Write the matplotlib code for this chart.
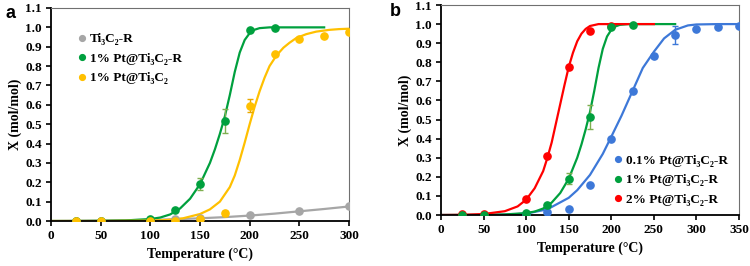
import matplotlib
matplotlib.use("Agg")
import matplotlib.pyplot as plt
from matplotlib.lines import Line2D

plt.rcParams['font.family'] = ['Liberation Serif', 'DejaVu Serif']
plt.rcParams['font.weight'] = 'bold'

# ---------------- Panel a data ----------------
a_gray_T = [25, 50, 100, 125, 150, 200, 250, 300]
a_gray = [0.0, 0.0, 0.005, 0.01, 0.015, 0.03, 0.053, 0.077]
a_green_T = [25, 50, 100, 125, 150, 175, 200, 225]
a_green = [0.0, 0.0, 0.01, 0.055, 0.19, 0.515, 0.987, 0.997]
a_green_err = [0, 0, 0, 0, 0.03, 0.062, 0, 0]
a_yellow_T = [25, 50, 100, 125, 150, 175, 200, 225, 250, 275, 300]
a_yellow = [0.0, 0.0, 0.0, 0.0, 0.012, 0.04, 0.595, 0.862, 0.94, 0.957, 0.974]
a_yellow_err = [0, 0, 0, 0, 0, 0.012, 0.033, 0, 0, 0, 0]

# fitted curves
a_gray_fitT = [0, 50, 100, 125, 150, 175, 200, 225, 250, 275, 300]
a_gray_fit = [0.0, 0.002, 0.006, 0.009, 0.014, 0.02, 0.028, 0.038, 0.05, 0.062, 0.075]
green_fitT = [0, 25, 50, 75, 100, 110, 120, 130, 140, 150, 160, 165, 170, 175,
              180, 185, 190, 195, 200, 205, 210, 220, 240, 275]
green_fit = [0.0, 0.0, 0.001, 0.003, 0.01, 0.018, 0.034, 0.065, 0.115, 0.19, 0.30,
             0.37, 0.45, 0.54, 0.65, 0.77, 0.87, 0.935, 0.97, 0.988, 0.996, 1.0, 1.0, 1.0]
a_yellow_fitT = [0, 50, 100, 116, 133, 150, 160, 170, 180, 185, 190, 195, 200, 205,
                 210, 215, 220, 227, 234, 240, 247, 257, 267, 280, 290, 300]
a_yellow_fit = [0.0, 0.0, 0.002, 0.005, 0.014, 0.036, 0.06, 0.10, 0.175, 0.235, 0.315,
                0.405, 0.50, 0.59, 0.67, 0.74, 0.80, 0.855, 0.895, 0.92, 0.945, 0.965,
                0.978, 0.987, 0.991, 0.993]

# ---------------- Panel b data ----------------
b_blue_T = [100, 125, 150, 175, 200, 225, 250, 275, 300, 325, 350]
b_blue = [0.005, 0.017, 0.032, 0.155, 0.398, 0.651, 0.832, 0.943, 0.975, 0.986, 0.988]
b_blue_err = [0, 0, 0, 0, 0, 0, 0.012, 0.045, 0, 0, 0]
b_green_T = [25, 50, 100, 125, 150, 175, 200, 225]
b_green = [0.0, 0.0, 0.01, 0.055, 0.19, 0.515, 0.985, 0.997]
b_green_err = [0, 0, 0, 0, 0.03, 0.062, 0, 0]
b_red_T = [25, 50, 100, 125, 150, 175, 200]
b_red = [0.003, 0.005, 0.085, 0.31, 0.775, 0.962, 0.992]

b_blue_fitT = [0, 50, 75, 100, 125, 150, 160, 175, 190, 200, 212, 225, 237, 250,
               262, 275, 290, 300, 325, 350]
b_blue_fit = [0.0, 0.0, 0.002, 0.007, 0.03, 0.09, 0.13, 0.21, 0.32, 0.41, 0.52, 0.65,
              0.77, 0.855, 0.925, 0.97, 0.993, 0.998, 1.0, 1.0]
b_red_fitT = [0, 25, 50, 75, 90, 100, 110, 120, 125, 130, 136, 140, 145, 150, 155,
              160, 165, 170, 175, 185, 200, 250]
b_red_fit = [0.0, 0.001, 0.005, 0.02, 0.045, 0.08, 0.14, 0.23, 0.30, 0.38, 0.50, 0.58,
             0.68, 0.775, 0.85, 0.91, 0.95, 0.975, 0.99, 1.0, 1.0, 1.0]

labels_a = ["Ti\u2083C\u2082-R", "1% Pt@Ti\u2083C\u2082-R", "1% Pt@Ti\u2083C\u2082"]
labels_b = ["0.1% Pt@Ti\u2083C\u2082-R", "1% Pt@Ti\u2083C\u2082-R", "2% Pt@Ti\u2083C\u2082-R"]

GRAY = '#A6A6A6'
GREEN = '#00A03E'
YELLOW = '#FFC000'
BLUE = '#3D78D8'
RED = '#FF0000'
GREEN_ERR = '#7FAF4F'
YELLOW_ERR = '#E8A800'
BLUE_ERR = '#3D78D8'

W, H = 750, 266
fig = plt.figure(figsize=(W / 100, H / 100), dpi=100)

def px_axes(l, r, top, bottom):
    return fig.add_axes([l / W, 1 - bottom / H, (r - l) / W, (bottom - top) / H])

axa = px_axes(51, 349, 8, 221)
axb = px_axes(441, 739, 5, 215)

ms = 5.2
lw = 1.6

def style(ax, xmax):
    ax.set_xlim(0, xmax)
    ax.set_ylim(0, 1.1)
    ax.set_xticks(range(0, xmax + 1, 50))
    ax.set_yticks([i / 10 for i in range(12)])
    ax.set_yticklabels([f"{i / 10:.1f}" for i in range(12)])
    for s in ['left', 'bottom']:
        ax.spines[s].set_color('black')
        ax.spines[s].set_linewidth(1.3)
    for s in ['top', 'right']:
        ax.spines[s].set_color('#707070')
        ax.spines[s].set_linewidth(0.8)
    ax.tick_params(axis='both', direction='out', length=3.5, width=1.2,
                   labelsize=9.5, pad=3, top=False, right=False)
    for t in ax.get_xticklabels() + ax.get_yticklabels():
        t.set_fontweight('bold')
    ax.set_xlabel("Temperature (\u00b0C)", fontsize=10, fontweight='bold', labelpad=4)
    ax.set_ylabel("X (mol/mol)", fontsize=10, fontweight='bold', labelpad=2)

def proxy(color):
    return Line2D([], [], ls='none', marker='o', color=color, ms=ms * 0.8)

# ---- panel a ----
axa.plot(a_gray_fitT, a_gray_fit, color=GRAY, lw=lw, zorder=2)
axa.plot(green_fitT, green_fit, color=GREEN, lw=lw, zorder=2)
axa.plot(a_yellow_fitT, a_yellow_fit, color=YELLOW, lw=lw, zorder=2)
axa.plot(a_gray_T, a_gray, 'o', color=GRAY, ms=ms, zorder=3)
axa.errorbar(a_green_T, a_green, yerr=a_green_err, fmt='o', color=GREEN, ms=ms,
             ecolor=GREEN_ERR, elinewidth=1, capsize=2, capthick=1, zorder=3)
axa.errorbar(a_yellow_T, a_yellow, yerr=a_yellow_err, fmt='o', color=YELLOW, ms=ms,
             ecolor=YELLOW_ERR, elinewidth=1, capsize=2, capthick=1, zorder=3)
style(axa, 300)
axa.legend([proxy(GRAY), proxy(GREEN), proxy(YELLOW)], labels_a,
           loc='upper left', bbox_to_anchor=(0.06, 0.925), frameon=False,
           handlelength=0.6, handletextpad=0.3, labelspacing=0.55,
           borderpad=0.2, prop={'weight': 'bold', 'size': 9.5})

# ---- panel b ----
axb.plot(b_blue_fitT, b_blue_fit, color=BLUE, lw=lw, zorder=2)
axb.plot(green_fitT, green_fit, color=GREEN, lw=lw, zorder=2)
axb.plot(b_red_fitT, b_red_fit, color=RED, lw=lw, zorder=2)
axb.errorbar(b_blue_T, b_blue, yerr=b_blue_err, fmt='o', color=BLUE, ms=ms,
             ecolor=BLUE_ERR, elinewidth=1, capsize=2, capthick=1, zorder=3)
axb.errorbar(b_green_T, b_green, yerr=b_green_err, fmt='o', color=GREEN, ms=ms,
             ecolor=GREEN_ERR, elinewidth=1, capsize=2, capthick=1, zorder=3)
axb.plot(b_red_T, b_red, 'o', color=RED, ms=ms, zorder=3)
style(axb, 350)
axb.legend([proxy(BLUE), proxy(GREEN), proxy(RED)], labels_b,
           loc='lower right', bbox_to_anchor=(0.995, 0.0), frameon=False,
           handlelength=0.6, handletextpad=0.3, labelspacing=0.55,
           borderpad=0.2, prop={'weight': 'bold', 'size': 9.5})

fig.text(11 / W, 1 - 13 / H, "a", fontsize=13, fontweight='bold',
         family=['Liberation Sans', 'DejaVu Sans'], ha='center', va='center')
fig.text(395 / W, 1 - 12 / H, "b", fontsize=13, fontweight='bold',
         family=['Liberation Sans', 'DejaVu Sans'], ha='center', va='center')

fig.savefig("out.png", dpi=100)
